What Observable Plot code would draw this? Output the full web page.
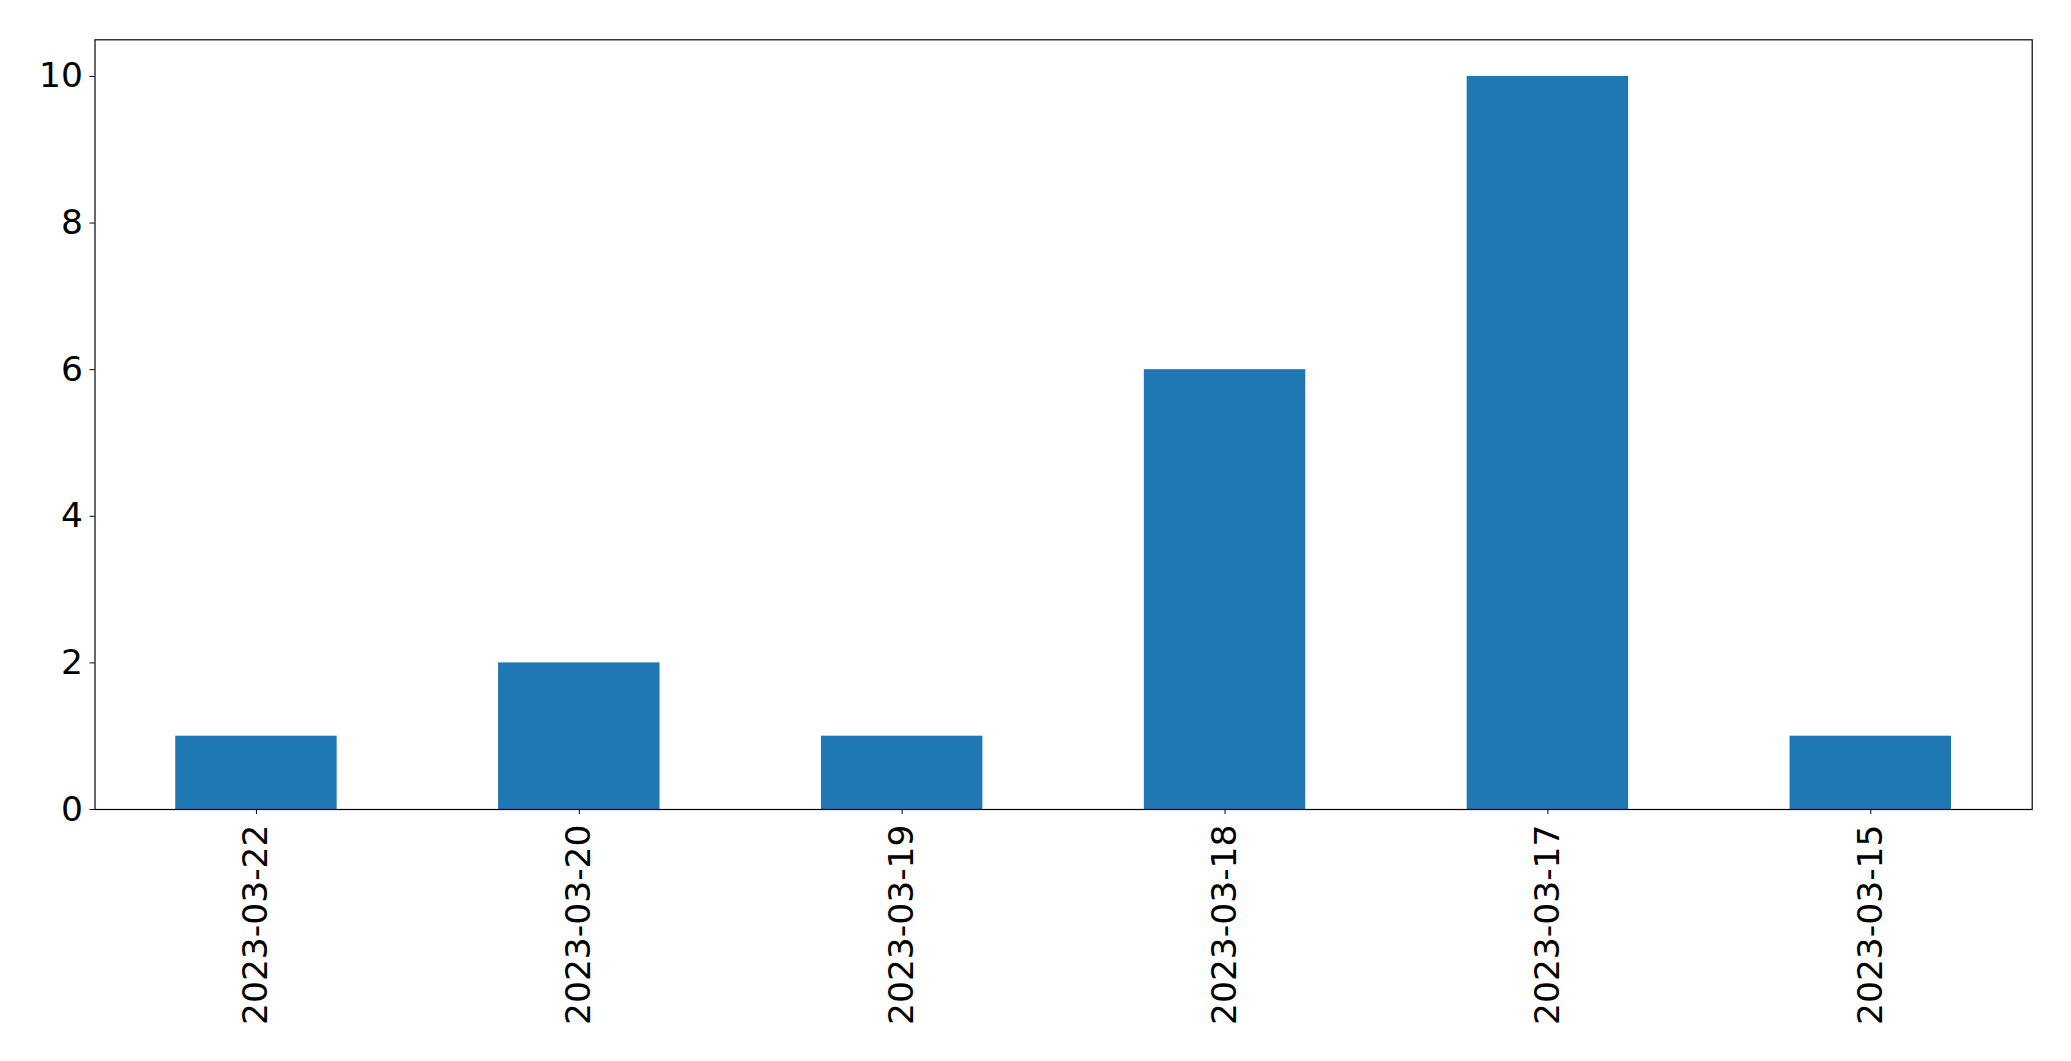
<!DOCTYPE html>
<html>
<head>
<meta charset="utf-8">
<script src="https://cdn.jsdelivr.net/npm/d3@7"></script>
<script src="https://cdn.jsdelivr.net/npm/@observablehq/plot@0.6"></script>
<style>
  html, body { margin: 0; padding: 0; background: #fff; }
  #chart svg { display: block; }
</style>
</head>
<body>
<div id="chart"></div>
<script>
const dates = ["2023-03-22", "2023-03-20", "2023-03-19", "2023-03-18", "2023-03-17", "2023-03-15"];
const counts = [1, 2, 1, 6, 10, 1];
const yTicks = [0, 2, 4, 6, 8, 10];

const data = dates.map((d, i) => ({date: d, count: counts[i]}));

const chart = Plot.plot({
  width: 2071,
  height: 1061,
  marginLeft: 94.5,
  marginRight: 39.3,
  marginTop: 39.3,
  marginBottom: 252,
  style: {fontFamily: "DejaVu Sans", fontSize: "34px", color: "#000", background: "#fff"},
  x: {domain: dates, paddingInner: 0.5, paddingOuter: 0.25, round: false, label: null},
  y: {domain: [0, 10.5], label: null},
  marks: [
    Plot.barY(data, {x: "date", y: "count", fill: "#1f77b4"}),
    Plot.axisY({ticks: yTicks, tickSize: 5, tickPadding: 7, fontSize: 34.5, label: null, tickFormat: d3.format("d")}),
    Plot.axisX({tickSize: 5, tickPadding: 10, tickRotate: -90, fontSize: 34.5, label: null}),
    Plot.frame({stroke: "#000", strokeWidth: 1.2})
  ]
});
document.getElementById("chart").appendChild(chart);
</script>
</body>
</html>
